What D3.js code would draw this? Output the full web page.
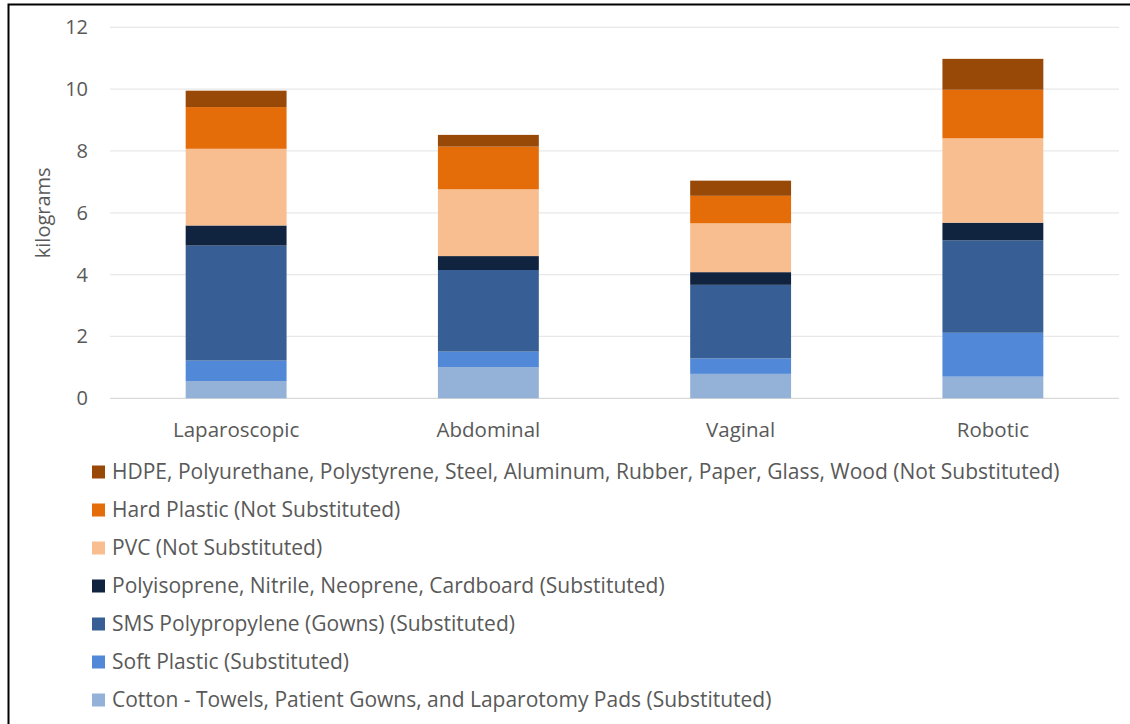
<!DOCTYPE html>
<html>
<head>
<meta charset="utf-8">
<script src="https://cdn.jsdelivr.net/npm/d3@7"></script>
<style>
  body { margin: 0; background: #fff; }
  text { font-family: "Open Sans", sans-serif; fill: #595959; }
</style>
</head>
<body>
<div id="chart"></div>
<script>
const categories = ['Laparoscopic', 'Abdominal', 'Vaginal', 'Robotic'];

// bottom to top stacking order
const seriesNames = [
  'Cotton - Towels, Patient Gowns, and Laparotomy Pads (Substituted)',
  'Soft Plastic (Substituted)',
  'SMS Polypropylene (Gowns) (Substituted)',
  'Polyisoprene, Nitrile, Neoprene, Cardboard (Substituted)',
  'PVC (Not Substituted)',
  'Hard Plastic (Not Substituted)',
  'HDPE, Polyurethane, Polystyrene, Steel, Aluminum, Rubber, Paper, Glass, Wood (Not Substituted)'
];
const seriesColors = ['#94b1d7', '#5189d8', '#375f95', '#11243f', '#f8be8f', '#e46d0a', '#984807'];

const cotton = [0.56, 1.01, 0.79, 0.70];
const softPlastic = [0.66, 0.50, 0.50, 1.42];
const sms = [3.72, 2.64, 2.38, 2.99];
const polyisoprene = [0.65, 0.45, 0.41, 0.57];
const pvc = [2.48, 2.16, 1.58, 2.73];
const hardPlastic = [1.35, 1.38, 0.89, 1.57];
const hdpe = [0.53, 0.38, 0.49, 1.00];

const yTicks = [0, 2, 4, 6, 8, 10, 12];

const seriesValues = [cotton, softPlastic, sms, polyisoprene, pvc, hardPlastic, hdpe];
const keys = seriesNames.map((s, i) => 'k' + i);
const table = categories.map((c, ci) => {
  const row = {category: c};
  keys.forEach((k, i) => { row[k] = seriesValues[i][ci]; });
  return row;
});

const W = 1130, H = 724;
const plot = {left: 110, right: 1119, top: 27.3, bottom: 398.3};

const svg = d3.select('#chart')
  .append('svg')
  .attr('width', W)
  .attr('height', H);

svg.append('rect').attr('width', W).attr('height', H).attr('fill', '#fff');

// frame (cropped at right and bottom)
svg.append('path')
  .attr('d', `M8.5,${H} V4.5 H${W}`)
  .attr('fill', 'none')
  .attr('stroke', '#000')
  .attr('stroke-width', 2);

const x = d3.scaleBand()
  .domain(categories)
  .range([plot.left, plot.right])
  .paddingInner(0.6)
  .paddingOuter(0.3);

const y = d3.scaleLinear()
  .domain([0, 12])
  .range([plot.bottom, plot.top]);

// gridlines
svg.append('g')
  .selectAll('line')
  .data(yTicks)
  .join('line')
  .attr('x1', plot.left)
  .attr('x2', plot.right)
  .attr('y1', d => y(d))
  .attr('y2', d => y(d))
  .attr('stroke', d => d === 0 ? '#d9d9d9' : '#e8e8e8')
  .attr('stroke-width', 1.2);

// y axis labels
const yAxis = svg.append('g')
  .attr('transform', `translate(${plot.left - 22},0)`)
  .call(d3.axisLeft(y).tickValues(yTicks).tickSize(0).tickPadding(0));
yAxis.select('.domain').remove();
yAxis.selectAll('text')
  .attr('font-size', 20)
  .attr('font-family', '"Open Sans", sans-serif')
  .attr('fill', '#595959');

svg.append('text')
  .attr('transform', `translate(50,${(plot.top + plot.bottom) / 2}) rotate(-90)`)
  .attr('text-anchor', 'middle')
  .attr('font-size', 20)
  .text('kilograms');

// x axis labels
const xAxis = svg.append('g')
  .attr('transform', `translate(0,${plot.bottom + 24})`)
  .call(d3.axisBottom(x).tickSize(0).tickPadding(0));
xAxis.select('.domain').remove();
xAxis.selectAll('text')
  .attr('font-size', 20.5)
  .attr('font-family', '"Open Sans", sans-serif')
  .attr('fill', '#595959');

// stacked bars
const stack = d3.stack().keys(keys);
const layers = stack(table);

svg.append('g')
  .selectAll('g')
  .data(layers)
  .join('g')
  .attr('fill', (d, i) => seriesColors[i])
  .selectAll('rect')
  .data(d => d)
  .join('rect')
  .attr('x', d => x(d.data.category))
  .attr('width', x.bandwidth())
  .attr('y', d => y(d[1]))
  .attr('height', d => y(d[0]) - y(d[1]));

// legend, top entry is last series
const legendOrder = seriesNames.map((n, i) => i).reverse();
const legend = svg.append('g')
  .attr('transform', 'translate(92,472)');

const item = legend.selectAll('g')
  .data(legendOrder)
  .join('g')
  .attr('transform', (d, i) => `translate(0,${i * 38})`);

item.append('rect')
  .attr('x', 0)
  .attr('y', -6.5)
  .attr('width', 13)
  .attr('height', 13)
  .attr('fill', d => seriesColors[d]);

item.append('text')
  .attr('x', 20)
  .attr('y', 0)
  .attr('dy', '0.35em')
  .attr('font-size', 21)
  .text(d => seriesNames[d]);
</script>
</body>
</html>
